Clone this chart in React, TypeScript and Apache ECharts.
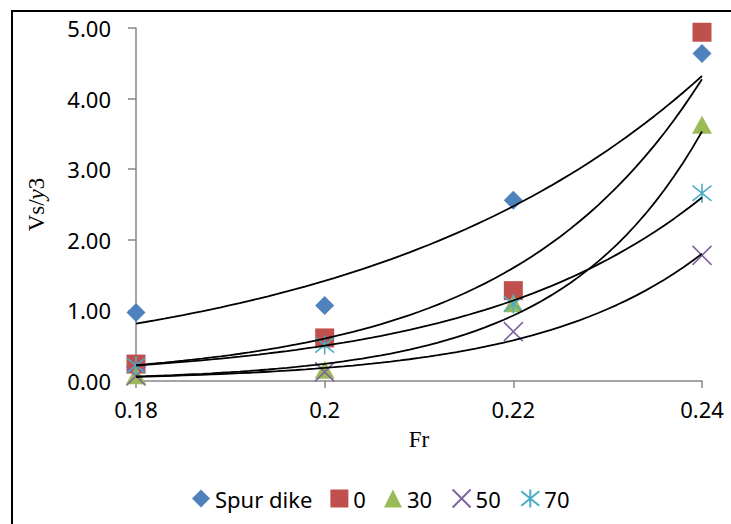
import React, { useEffect, useRef } from "react";
import * as echarts from "echarts";

const xValues = [0.18, 0.2, 0.22, 0.24];
const yTicks = [0, 1, 2, 3, 4, 5];
const spurDike = [0.97, 1.07, 2.56, 4.64];
const angle0 = [0.24, 0.61, 1.28, 4.94];
const angle30 = [0.08, 0.16, 1.1, 3.63];
const angle50 = [0.07, 0.13, 0.7, 1.78];
const angle70 = [0.22, 0.51, 1.09, 2.66];

const seriesNames = ["Spur dike", "0", "30", "50", "70"];
const seriesValues = [spurDike, angle0, angle30, angle50, angle70];
const colors = ["#4F81BD", "#C0504D", "#9BBB59", "#8064A2", "#4BACC6"];
const symbols = [
  "diamond",
  "rect",
  "triangle",
  "path://M0,0L20,20M20,0L0,20",
  "path://M10,0L10,20M0,2L20,18M20,2L0,18",
];

// Excel-style exponential trendline: least squares fit of ln(y) on x
function expFit(xs: number[], ys: number[]) {
  const n = xs.length;
  const ly = ys.map((v) => Math.log(v));
  const mx = xs.reduce((a, b) => a + b, 0) / n;
  const my = ly.reduce((a, b) => a + b, 0) / n;
  let sxy = 0;
  let sxx = 0;
  for (let i = 0; i < n; i++) {
    sxy += (xs[i] - mx) * (ly[i] - my);
    sxx += (xs[i] - mx) * (xs[i] - mx);
  }
  const b = sxy / sxx;
  const a = my - b * mx;
  const pts: number[][] = [];
  const x0 = xs[0];
  const x1 = xs[n - 1];
  const steps = 60;
  for (let i = 0; i <= steps; i++) {
    const x = x0 + ((x1 - x0) * i) / steps;
    pts.push([x, Math.exp(a + b * x)]);
  }
  return pts;
}

const LABEL_FONT = "'Noto Sans', 'Liberation Sans', sans-serif";
const SERIF = "'Liberation Serif', 'DejaVu Serif', serif";

export default function App() {
  const ref = useRef<HTMLDivElement>(null);

  useEffect(() => {
    document.body.style.margin = "0";
    if (!ref.current) return;
    const chart = echarts.init(ref.current, undefined, { renderer: "svg" });

    const scatterSeries = seriesNames.map((name, i) => {
      const isStroke = i >= 3;
      return {
        name,
        type: "scatter",
        data: xValues.map((x, j) => [x, seriesValues[i][j]]),
        symbol: symbols[i],
        symbolSize: i === 2 ? [20, 18] : 19,
        itemStyle: isStroke
          ? { color: "none", borderColor: colors[i], borderWidth: 1.6, opacity: 1 }
          : { color: colors[i], opacity: 1 },
        z: 2,
      };
    });

    const trendSeries = seriesNames.map((name, i) => ({
      name: "trend " + name,
      type: "line",
      data: expFit(xValues, seriesValues[i]),
      showSymbol: false,
      symbol: "none",
      silent: true,
      lineStyle: { color: "#000", width: 1.8 },
      z: 3,
    }));

    chart.setOption({
      animation: false,
      backgroundColor: "#fff",
      grid: { left: 136, right: 29, top: 28, bottom: 143, containLabel: false },
      graphic: [
        {
          type: "rect",
          shape: { x: 12, y: 11, width: 760, height: 560 },
          style: { fill: "none", stroke: "#000", lineWidth: 2 },
          silent: true,
        },
      ],
      legend: {
        data: seriesNames.map((n, i) => ({
          name: n,
          icon: symbols[i],
        })),
        left: 187,
        top: 482,
        itemWidth: 18,
        itemHeight: 18,
        itemGap: 18,
        textStyle: { fontSize: 22, color: "#000", fontFamily: LABEL_FONT },
      },
      xAxis: {
        type: "value",
        min: xValues[0],
        max: xValues[xValues.length - 1],
        interval: 0.02,
        name: "Fr",
        nameLocation: "middle",
        nameGap: 47,
        nameTextStyle: { fontFamily: SERIF, fontSize: 23, color: "#000" },
        axisLine: { show: true, lineStyle: { color: "#868686", width: 1.5 } },
        axisTick: { show: true, length: 7, lineStyle: { color: "#868686", width: 1.5 } },
        axisLabel: {
          fontSize: 22,
          color: "#000",
          fontFamily: LABEL_FONT,
          margin: 17,
          formatter: (v: number) => String(+v.toFixed(2)),
        },
        splitLine: { show: false },
      },
      yAxis: {
        type: "value",
        min: yTicks[0],
        max: yTicks[yTicks.length - 1],
        interval: 1,
        name: "{a|Vs/}{b|y}{a|3}",
        nameLocation: "middle",
        nameGap: 88,
        nameTextStyle: {
          rich: {
            a: { fontFamily: SERIF, fontSize: 23, color: "#000" },
            b: { fontFamily: SERIF, fontSize: 23, color: "#000", fontStyle: "italic" },
          },
        },
        axisLine: { show: true, lineStyle: { color: "#868686", width: 1.5 } },
        axisTick: { show: true, length: 8, lineStyle: { color: "#868686", width: 1.5 } },
        axisLabel: {
          fontSize: 22,
          color: "#000",
          fontFamily: LABEL_FONT,
          margin: 25,
          formatter: (v: number) => v.toFixed(2),
        },
        splitLine: { show: false },
      },
      series: [...scatterSeries, ...trendSeries],
    });

    return () => {
      chart.dispose();
    };
  }, []);

  return <div ref={ref} style={{ width: 731, height: 524 }} />;
}
